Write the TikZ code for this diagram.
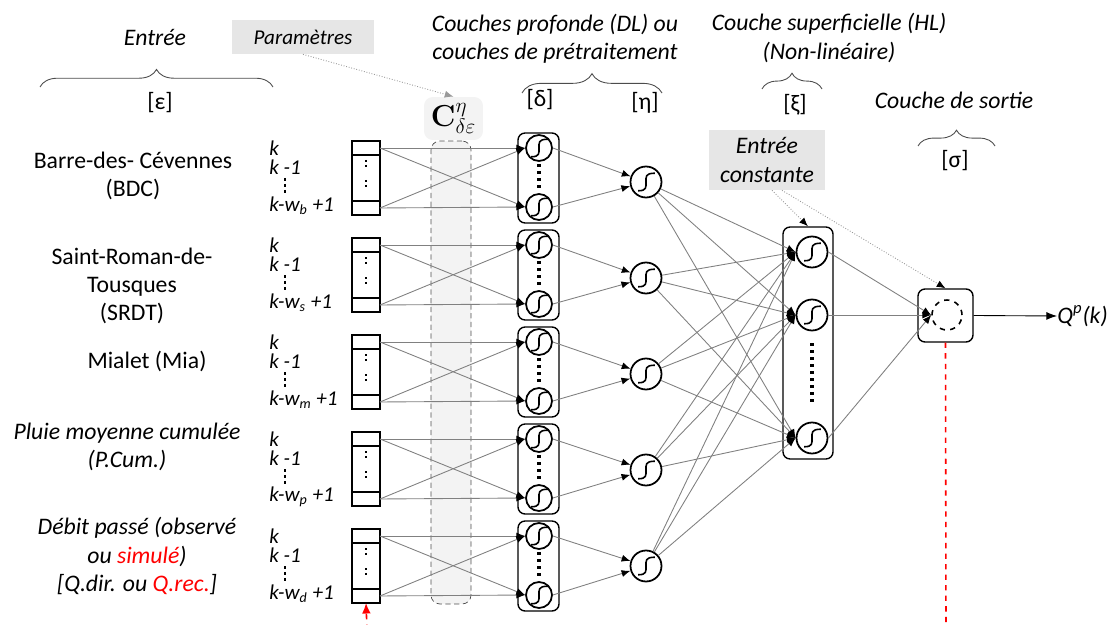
\documentclass[tikz,border=0pt]{standalone}
\usepackage[no-math]{fontspec}
\setmainfont{Carlito}
\usetikzlibrary{arrows.meta,positioning,decorations.pathreplacing}
\definecolor{gristrait}{HTML}{808080}
\definecolor{fondgris}{HTML}{E6E6E6}
\definecolor{fondclair}{HTML}{F3F3F3}
\definecolor{rouge}{HTML}{FF0000}

\begin{document}
\begin{tikzpicture}[
  x=0.02cm, y=-0.02cm,
  font=\fontsize{13.5}{16}\selectfont,
  sigm/.style={path picture={\begin{scope}[shift={(path picture bounding box.center)}, scale=#1]
      \draw[line width=0.9pt] (-4.5pt,-5pt) .. controls (0.5pt,-5pt) and (0pt,-3pt) .. (0pt,0pt) .. controls (0pt,3pt) and (-0.5pt,5pt) .. (5pt,5pt);
    \end{scope}}},
  neur/.style={circle, draw, line width=1pt, minimum size=0.52cm, inner sep=0pt, fill=white, sigm=1},
  neurb/.style={neur, minimum size=0.62cm, sigm=1.2},
  cell/.style={draw, line width=0.7pt, minimum width=0.56cm, minimum height=0.28cm, inner sep=0pt, outer sep=0pt},
  milieu/.style={cell, minimum height=0.92cm},
  grp/.style={draw, line width=0.8pt, rounded corners=4pt, inner sep=0pt},
  lien/.style={draw=gristrait, line width=0.5pt, -{Latex[black, length=5pt, width=4pt]}},
  accol/.style={draw=black!70, line width=0.5pt, decorate, decoration={brace, amplitude=#1}},
  pointill/.style={draw=black!40, densely dotted, line width=0.5pt, -{Latex[length=5pt, width=4pt]}},
  gbox/.style={fill=fondgris, inner sep=0pt},
  it/.style={font=\fontsize{13.5}{16}\selectfont\itshape, align=center},
  etq/.style={font=\fontsize{12}{14}\selectfont\itshape, anchor=west, inner sep=0pt},
  pts/.style={line width=1.2pt, dash pattern=on 1.2pt off 1.6pt},
  bigpts/.style={line width=1.8pt, dash pattern=on 1.8pt off 2.2pt}]
\useasboundingbox (0,0) rectangle (1110,625);
% colonne des parametres
\node[draw=black!70, densely dashed, line width=0.4pt, fill=fondclair, rounded corners=5pt, minimum width=0.8cm, minimum height=9.26cm] (col) at (451,372.5) {};
% en-tetes
\node[it] (entree) at (155,37) {Entrée};
\draw[accol=10pt] (40,87) -- (273,87);
\node (eps) at (160,103) {[ε]};
\node[gbox, it, minimum width=2.84cm, minimum height=0.68cm, font=\fontsize{12}{14}\selectfont\itshape] (param) at (303,37) {Paramètres};
\node[fill=fondclair, rounded corners=5pt, minimum width=1.18cm, minimum height=0.86cm, font=\fontsize{17}{20}\selectfont] (cpar) at (453.5,118.5) {$\mathbf{C}^{\eta}_{\delta\varepsilon}$};
\draw[pointill] (param.south) -- (cpar.north);
\node[it] (dl) at (555,39) {Couches profonde (DL) ou\\couches de prétraitement};
\draw[accol=11pt] (522,93) -- (662,93);
\node (delta) at (540,100) {[δ]};
\node (eta) at (645,103) {[η]};
\node[it] (hl) at (829,38) {Couche superficielle (HL)\\(Non-linéaire)};
\draw[accol=9pt] (762,89) -- (822,89);
\node (xi) at (795,105) {[ξ]};
\node[it] (sortie) at (954,100) {Couche de sortie};
\draw[accol=9pt] (918,146) -- (995,146);
\node (sigma) at (955,161) {[σ]};
% entrees
\node[align=center] (bdc) at (133,176) {Barre-des- Cévennes\\(BDC)};
\node[align=center] (srdt) at (132,286) {Saint-Roman-de-\\Tousques\\(SRDT)};
\node (mia) at (147,361) {Mialet (Mia)};
\node[it] (pcum) at (127,447) {Pluie moyenne cumulée\\(P.Cum.)};
\node[it] (debit) at (137,556) {Débit passé (observé\\ou \textcolor{rouge}{simulé})\\{}[Q.dir. ou \textcolor{rouge}{Q.rec.}]};
% couche superficielle et sortie
\node[grp, minimum width=1cm, minimum height=4.64cm] (hlbox) at (808,343) {};
\node[neurb] (s1) at (812,252) {};
\node[neurb] (s2) at (812,315) {};
\node[neurb] (s3) at (812,438) {};
\draw[bigpts] (812,343) -- (812,405);
\node[grp, minimum width=1.1cm, minimum height=1.06cm] (sbox) at (945.5,315.5) {};
\node[circle, draw, dashed, line width=0.9pt, minimum size=0.6cm] (so) at (947,315) {};
\node[gbox, it, minimum width=2.32cm, minimum height=1.2cm] (ec) at (767,160) {Entrée\\constante};
\draw[pointill, -{Latex[black, length=5pt, width=4pt]}] ([xshift=0.1cm]ec.south) -- (hlbox.north);
\draw[pointill, -{Latex[black, length=5pt, width=4pt]}] ([xshift=0.3cm]ec.south) -- (sbox.north);
\foreach \j in {1,2,3} \draw[lien] (s\j.east) -- (so.west);
\node[etq, font=\fontsize{13.5}{16}\selectfont\itshape] (qp) at (1057,316) {Q\textsuperscript{p}(k)};
\draw[-{Latex[length=6pt, width=4.5pt]}, line width=0.5pt] (sbox.east) -- (qp.west);
\coordinate (rbas) at (946,630);
\draw[rouge, dashed, line width=0.9pt] (sbox.south) -- (rbas);
% groupes d'entree
\foreach \i/\w in {0/b,1/s,2/m,3/p,4/d} {
  \pgfmathsetmacro{\yo}{97*\i}
  \pgfmathsetmacro{\yh}{96*\i}
  \node[cell] (et\i) at (366,148+\yo) {};
  \node[milieu, below=0pt of et\i] (em\i) {};
  \node[cell, below=0pt of em\i] (eb\i) {};
  \draw[line width=1.2pt] (eb\i.south west) -- (eb\i.south east);
  \draw[pts] (366,160+\yo) -- (366,169+\yo);
  \draw[pts] (366,180+\yo) -- (366,189+\yo);
  \node[etq] (k\i) at (269,148+\yo) {k};
  \node[etq] (kk\i) at (269,167+\yo) {k -1};
  \draw[pts, line width=1.6pt, dash pattern=on 1.6pt off 1.8pt] (285,178+\yo) -- (285,193+\yo);
  \node[etq] (kw\i) at (269,206+\yo) {k-w\textsubscript{\w} +1};
  \node[grp, minimum width=0.82cm, minimum height=1.8cm] (dl\i) at (538.5,178+\yo) {};
  \node[neur] (da\i) at (539,148+\yo) {};
  \node[neur] (db\i) at (539,207+\yo) {};
  \draw[bigpts] (539,164+\yo) -- (539,192+\yo);
  \node[neurb] (h\i) at (646,182+\yh) {};
  \draw[lien] (et\i.east) -- (da\i.west);
  \draw[lien] (et\i.east) -- (db\i.west);
  \draw[lien] (eb\i.east) -- (da\i.west);
  \draw[lien] (eb\i.east) -- (db\i.west);
  \draw[lien] (da\i.east) -- (h\i);
  \draw[lien] (db\i.east) -- (h\i);
  \foreach \j in {1,2,3} \draw[lien] (h\i) -- (s\j.west);
}
\coordinate (rin) at (367,630);
\draw[rouge, dashed, line width=0.9pt, -{Latex[length=6pt, width=5pt]}] (rin) -- (eb4.south);
\end{tikzpicture}
\end{document}
